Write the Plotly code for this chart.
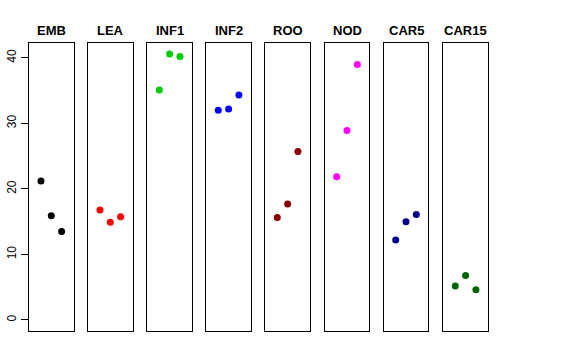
import plotly.graph_objects as go

categories = ["EMB", "LEA", "INF1", "INF2", "ROO", "NOD", "CAR5", "CAR15"]
colors = ["#000000", "#FF0000", "#00CD00", "#0000FF", "#8B0000", "#FF00FF", "#00008B", "#006400"]
x_pos = [1, 2, 3]
values = {
    "EMB": [21.2, 15.9, 13.5],
    "LEA": [16.8, 14.9, 15.75],
    "INF1": [35.1, 40.6, 40.2],
    "INF2": [32.0, 32.2, 34.35],
    "ROO": [15.65, 17.7, 25.7],
    "NOD": [21.85, 28.9, 39.0],
    "CAR5": [12.2, 15.0, 16.1],
    "CAR15": [5.2, 6.8, 4.6],
}
y_ticks = [0, 10, 20, 30, 40]

W, H = 576, 360
ML, MR, MT, MB = 29, 88, 43, 29
PW, PH = W - ML - MR, H - MT - MB
panel_left = [29, 88, 147.3, 206.3, 265.3, 324.7, 383.7, 443.3]
panel_w = 44.6

fig = go.Figure()
layout = dict(
    width=W, height=H,
    margin=dict(l=ML, r=MR, t=MT, b=MB, autoexpand=False),
    paper_bgcolor="white", plot_bgcolor="white",
    showlegend=False,
    font=dict(family="Liberation Sans, Arial, sans-serif", size=12, color="black"),
)
annotations = []
for i, cat in enumerate(categories):
    n = "" if i == 0 else str(i + 1)
    fig.add_trace(go.Scatter(
        x=x_pos, y=values[cat], mode="markers",
        marker=dict(color=colors[i], size=7, line=dict(width=0)),
        xaxis="x" + n, yaxis="y" + n, hoverinfo="skip",
    ))
    x0 = (panel_left[i] - ML) / PW
    x1 = min(1.0, (panel_left[i] + panel_w - ML) / PW)
    layout["xaxis" + n] = dict(
        domain=[x0, x1], range=[-0.16, 4.16], anchor="y" + n,
        showline=True, mirror=True, linecolor="black", linewidth=1,
        showgrid=False, zeroline=False, showticklabels=False, ticks="",
        fixedrange=True, automargin=False,
    )
    yax = dict(
        domain=[0, 1], range=[-1.68, 42.27],
        anchor="x" + n,
        showline=True, mirror=True, linecolor="black", linewidth=1,
        showgrid=False, zeroline=False, fixedrange=True, automargin=False,
    )
    if i == 0:
        yax.update(tickmode="array", tickvals=y_ticks, ticks="outside", ticklen=7,
                   tickcolor="black", tickangle=-90, showticklabels=True,
                   tickfont=dict(size=12, color="black"))
    else:
        yax.update(showticklabels=False, ticks="")
    layout["yaxis" + n] = yax
    annotations.append(dict(
        text="<b>" + cat + "</b>", x=(x0 + x1) / 2, y=1 + (MT - 30) / PH,
        xref="paper", yref="paper", showarrow=False,
        xanchor="center", yanchor="middle",
        font=dict(size=13, color="black", family="Liberation Sans, Arial, sans-serif"),
    ))
layout["annotations"] = annotations
fig.update_layout(**layout)
fig.write_html("out.html", config={"displayModeBar": False},
               post_script="document.body.style.margin='0px';")
